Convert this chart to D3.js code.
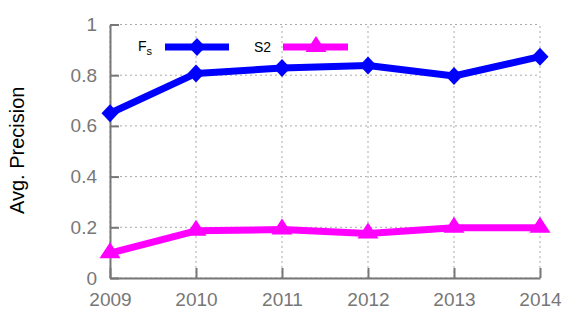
<!DOCTYPE html>
<html><head><meta charset="utf-8">
<script src="https://cdn.jsdelivr.net/npm/d3@7"></script>
<style>body{margin:0;background:#fff}svg{display:block}</style>
</head><body><svg id="c" width="581" height="323"></svg>
<script>
const years = [2009, 2010, 2011, 2012, 2013, 2014];
const fsValues = [0.65, 0.807, 0.828, 0.838, 0.797, 0.873];
const s2Values = [0.098, 0.186, 0.191, 0.176, 0.198, 0.198];
const yTicks = [0, 0.2, 0.4, 0.6, 0.8, 1];
const yTickLabels = ["0", "0.2", "0.4", "0.6", "0.8", "1"];

const svg = d3.select("#c");
const x = d3.scaleLinear().domain([2009, 2014]).range([110, 540]);
const y = d3.scaleLinear().domain([0, 1]).range([278, 24.5]);
const grey = "#777";
const font = "Liberation Sans, Arial, sans-serif";

// grid
const g = svg.append("g");
g.selectAll(".gy").data(yTicks).join("line")
  .attr("x1", x(2009)).attr("x2", x(2014))
  .attr("y1", d => y(d)).attr("y2", d => y(d))
  .attr("stroke", "#aaa").attr("stroke-width", 1).attr("stroke-dasharray", "2,3");
g.selectAll(".gx").data(years).join("line")
  .attr("x1", d => x(d)).attr("x2", d => x(d))
  .attr("y1", y(0)).attr("y2", y(1))
  .attr("stroke", "#aaa").attr("stroke-width", 1).attr("stroke-dasharray", "2,3");

// axes
const yAxis = d3.axisLeft(y).tickValues(yTicks).tickFormat((d, i) => yTickLabels[i]).tickSizeInner(-9).tickSizeOuter(0).tickPadding(13);
const ya = svg.append("g").attr("transform", `translate(${x(2009)},0)`).call(yAxis);
const xAxis = d3.axisBottom(x).tickValues(years).tickFormat(d3.format("d")).tickSizeInner(-10).tickSizeOuter(0).tickPadding(15);
const xa = svg.append("g").attr("transform", `translate(0,${y(0)})`).call(xAxis);
[ya, xa].forEach(a => {
  a.selectAll("path,line").attr("stroke", grey).attr("stroke-width", 2);
  a.selectAll("text").attr("fill", grey).style("font-family", font).style("font-size", "19px");
});

// y label
svg.append("text").attr("transform", `translate(24,${y(0.5) - 1}) rotate(-90)`)
  .attr("text-anchor", "middle").style("font-family", font).style("font-size", "20px")
  .attr("fill", "#000").text("Avg. Precision");

const line = d3.line().x((d, i) => x(years[i])).y(d => y(d));
const diamond = "M0,-9L8.5,0L0,9L-8.5,0Z";
const tri = "M0,-11L10.5,5L-10.5,5Z";

function series(vals, color, sym) {
  svg.append("path").datum(vals).attr("d", line).attr("fill", "none")
    .attr("stroke", color).attr("stroke-width", 7).attr("stroke-linejoin", "round");
  svg.selectAll(null).data(vals).join("path")
    .attr("transform", (d, i) => `translate(${x(years[i])},${y(d)})`)
    .attr("d", sym).attr("fill", color);
}
series(s2Values, "#ff00ff", tri);
series(fsValues, "#0000ff", diamond);

// legend
const ly = 47;
const lf = svg.append("text").attr("x", 138).attr("y", ly + 4).style("font-family", font).style("font-size", "14px").attr("fill", "#000");
lf.append("tspan").text("F");
lf.append("tspan").attr("dy", 4).style("font-size", "11px").text("s");
svg.append("line").attr("x1", 165).attr("x2", 229).attr("y1", ly).attr("y2", ly).attr("stroke", "#0000ff").attr("stroke-width", 7);
svg.append("path").attr("transform", `translate(197,${ly})`).attr("d", diamond).attr("fill", "#0000ff");
svg.append("text").attr("x", 254).attr("y", ly + 5).style("font-family", font).style("font-size", "14px").attr("fill", "#000").text("S2");
svg.append("line").attr("x1", 283).attr("x2", 348).attr("y1", ly).attr("y2", ly).attr("stroke", "#ff00ff").attr("stroke-width", 7);
svg.append("path").attr("transform", `translate(316,${ly})`).attr("d", tri).attr("fill", "#ff00ff");
</script></body></html>
